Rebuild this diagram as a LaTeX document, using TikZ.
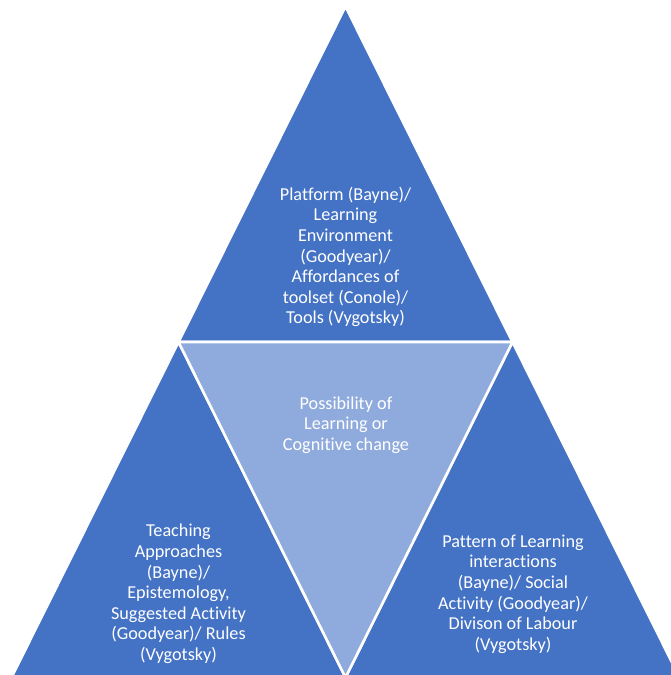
\documentclass[tikz,border=0pt]{standalone}
\usepackage{fontspec}
\setmainfont{Carlito}[Ligatures={NoCommon}]
\definecolor{darkb}{HTML}{4472C4}
\definecolor{lightb}{HTML}{8FAADC}
\begin{document}
\begin{tikzpicture}[x=1pt,y=-1pt,
  tri/.style={fill=darkb,draw=white,line width=2.6pt,line join=miter},
  innertri/.style={fill=lightb,draw=white,line width=2.6pt,line join=miter},
  lbl/.style={text=white,align=center,font=\fontsize{18.2}{20.6}\selectfont,inner sep=0pt}]
\useasboundingbox (0,0) rectangle (671,675);
\begin{scope}
\clip (0,0) rectangle (671,675);
% top triangle
\filldraw[tri] (345.5,6.5) -- (512.5,342) -- (178.5,342) -- cycle;
% bottom-left triangle
\filldraw[tri] (178.5,342) -- (345.5,677.5) -- (11.5,677.5) -- cycle;
% bottom-right triangle
\filldraw[tri] (512.5,342) -- (679.5,677.5) -- (345.5,677.5) -- cycle;
% middle inverted triangle
\filldraw[innertri] (178.5,342) -- (512.5,342) -- (345.5,677.5) -- cycle;
\end{scope}
\node[lbl] (top) at (345.5,257) {Platform (Bayne)/\\Learning\\Environment\\(Goodyear)/\\Affordances of\\toolset (Conole)/\\Tools (Vygotsky)};
\node[lbl] (mid) at (346,425) {Possibility of\\Learning or\\Cognitive change};
\node[lbl] (left) at (178.5,594) {Teaching\\Approaches\\(Bayne)/\\Epistemology,\\Suggested Activity\\(Goodyear)/ Rules\\(Vygotsky)};
\node[lbl] (right) at (513,594) {Pattern of Learning\\interactions\\(Bayne)/ Social\\Activity (Goodyear)/\\Divison of Labour\\(Vygotsky)};
\end{tikzpicture}
\end{document}
